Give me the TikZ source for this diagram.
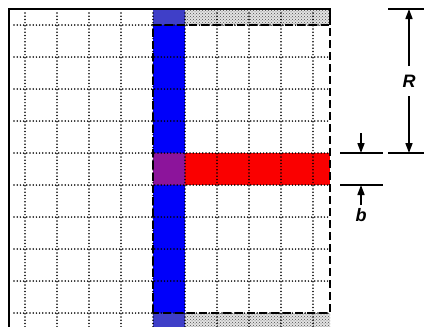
\documentclass[tikz,border=0pt]{standalone}
\usepackage{fontspec}
\setmainfont{Liberation Sans}
\usetikzlibrary{patterns,arrows.meta}
\definecolor{myblue}{RGB}{0,0,250}
\definecolor{myred}{RGB}{250,0,0}
\definecolor{mypurple}{RGB}{140,20,155}
\tikzset{
  grid line/.style={black, line width=1.7pt, line cap=round, dash pattern=on 0pt off 3.2pt},
  stipple/.style={pattern=crosshatch dots, pattern color=black!70},
  frame/.style={black, line width=2pt},
  dashbox/.style={black, line width=2.8pt, dash pattern=on 8pt off 4pt},
  dimline/.style={black, line width=1.6pt},
  dimarrow/.style={black, line width=1.6pt, -{Triangle[length=10pt,width=7pt]}},
  lbl/.style={font=\bfseries\itshape\fontsize{18}{18}\selectfont, inner sep=1pt}
}
\begin{document}
\begin{tikzpicture}[x=1pt,y=-1pt]
\useasboundingbox (0,0) rectangle (424,327);
\fill[white] (0,0) rectangle (424,327);
% stippled strips
\fill[gray!22] (185,9) rectangle (330,25);
\fill[gray!22] (185,313) rectangle (330,327);
\fill[stipple] (185,9) rectangle (330,25);
\fill[stipple] (185,313) rectangle (330,327);
% blue column and red bar
\fill[myblue] (153,9) rectangle (185,327);
\fill[myred] (185,153) rectangle (330,185);
\fill[mypurple] (153,153) rectangle (185,185);
\fill[black!45, opacity=0.45] (153,9) rectangle (185,25);
\fill[black!45, opacity=0.45] (153,313) rectangle (185,327);
% dotted grid
\foreach \v in {25,57,89,121,153,185,217,249,281,313}{
  \draw[grid line] (14,\v) -- (330,\v);
  \draw[grid line] (\v,13) -- (\v,327);
}
% frame
\draw[frame] (9,335) -- (9,9) -- (330,9) -- (330,25);
% dashed box
\draw[dashbox] (153,313) -- (153,25) -- (330,25) -- (330,313) -- cycle;
% dimensions
\coordinate (rt1) at (388,9);   \coordinate (rt2) at (424,9);
\coordinate (rb1) at (388,153); \coordinate (rb2) at (424,153);
\coordinate (bt1) at (340,153); \coordinate (bt2) at (383,153);
\coordinate (bb1) at (340,185); \coordinate (bb2) at (383,185);
\draw[dimline] (rt1) -- (rt2);
\draw[dimline] (rb1) -- (rb2);
\draw[dimline] (bt1) -- (bt2);
\draw[dimline] (bb1) -- (bb2);
\node[lbl] (R) at (409,81) {R};
\coordinate (Rtop) at (409,9);
\coordinate (Rbot) at (409,153);
\draw[dimarrow] (R.north |- 0,66) -- (Rtop);
\draw[dimarrow] (R.south |- 0,96) -- (Rbot);
\coordinate (btopa) at (361,133);
\coordinate (btopb) at (361,153);
\coordinate (bbota) at (361,205);
\coordinate (bbotb) at (361,185);
\draw[dimarrow] (btopa) -- (btopb);
\draw[dimarrow] (bbota) -- (bbotb);
\node[lbl] (b) at (361,215) {b};
\end{tikzpicture}
\end{document}
